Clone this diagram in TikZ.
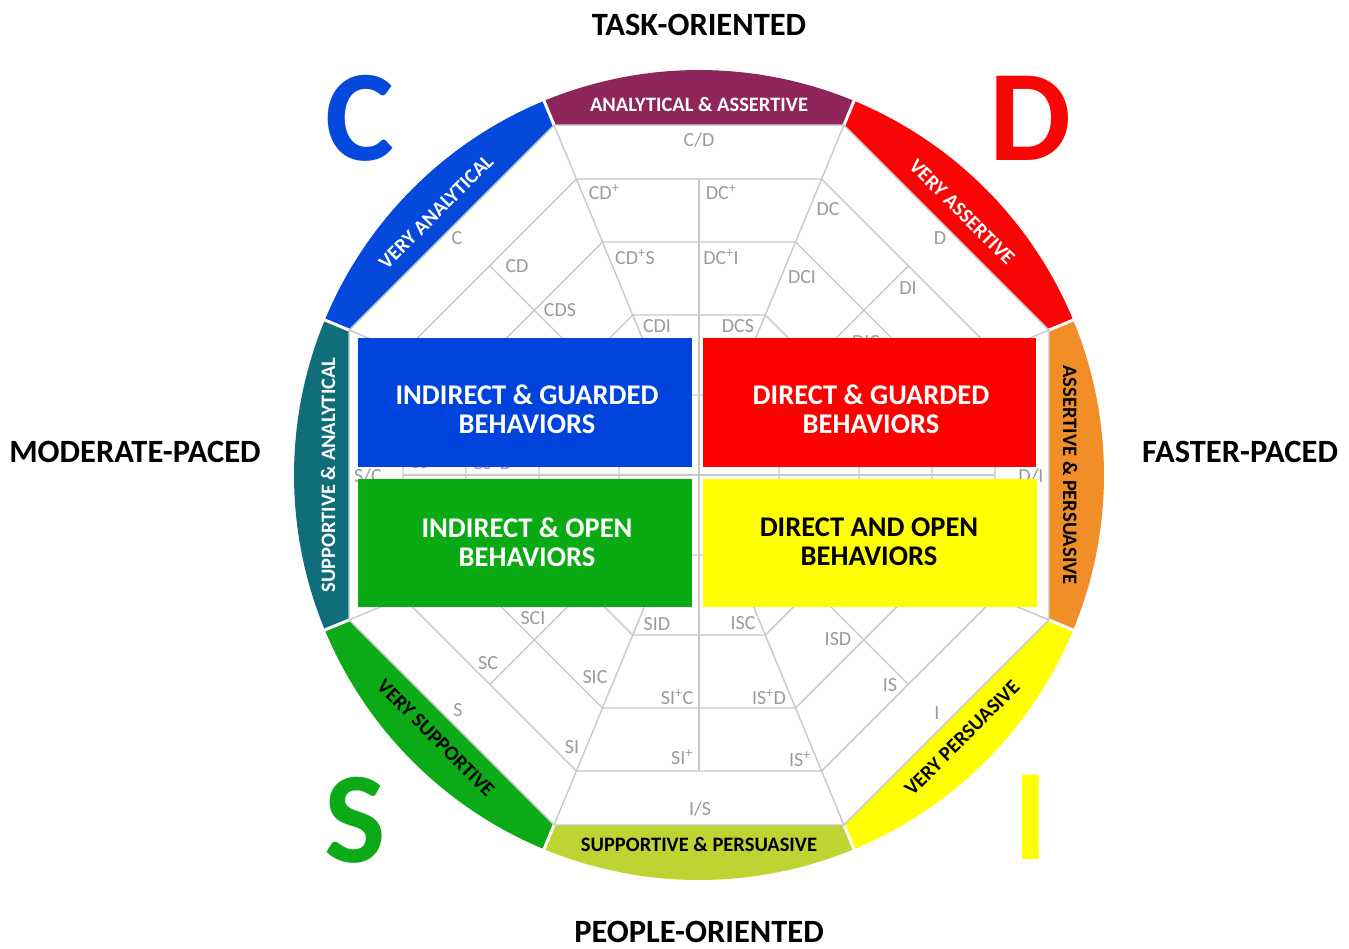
\documentclass[tikz,border=0pt]{standalone}
\usepackage{fontspec}
\setmainfont{Carlito}
\usetikzlibrary{calc}
\definecolor{cpurple}{RGB}{142,38,92}
\definecolor{cred}{RGB}{250,5,5}
\definecolor{corange}{RGB}{242,142,40}
\definecolor{cyellow}{RGB}{255,255,0}
\definecolor{cygreen}{RGB}{190,212,50}
\definecolor{cgreen}{RGB}{12,170,22}
\definecolor{cteal}{RGB}{15,110,122}
\definecolor{cblue}{RGB}{5,72,220}
\definecolor{bxblue}{RGB}{0,68,221}
\definecolor{bxred}{RGB}{255,0,0}
\definecolor{bxgreen}{RGB}{10,170,20}
\definecolor{bxyellow}{RGB}{255,255,0}
\definecolor{gridgray}{RGB}{200,200,200}
\definecolor{lblgray}{RGB}{155,155,155}
\begin{document}
\begin{tikzpicture}[x=1pt,y=-1pt,
  gridline/.style={draw=gridgray, line width=1.4pt},
  lbl/.style={text=lblgray, font=\fontsize{20}{21}\selectfont, inner sep=0pt},
  ringtxt/.style={font=\bfseries\fontsize{20.5}{22}\selectfont, inner sep=0pt},
  boxtxt/.style={font=\bfseries\fontsize{28.5}{29}\selectfont, align=center, inner sep=0pt},
  bigletter/.style={font=\bfseries\fontsize{130}{130}\selectfont, inner sep=0pt},
  outerlbl/.style={font=\bfseries\fontsize{32.5}{34}\selectfont, inner sep=0pt, text=black},
]
\useasboundingbox (0,0) rectangle (1349,948);
\fill[white] (0,0) rectangle (1349,948);
\coordinate (O) at (699,475);

\begin{scope}[shift={(O)}]
  % ring segments
  \foreach \a/\col in {-112.5/cpurple, -67.5/cred, -22.5/corange, 22.5/cyellow, 67.5/cygreen, 112.5/cgreen, 157.5/cteal, 202.5/cblue}{
    \fill[\col] (\a:378.84) -- (\a:405) arc[start angle=\a, end angle=\a+45, radius=405] -- ({\a+45}:378.84) -- cycle;
  }
  \foreach \a in {22.5,67.5,...,337.5}{
    \draw[white, line width=3pt] (\a:376) -- (\a:410);
  }
  % grid
  \foreach \r in {378.84, 320.39, 252.20, 173.18, 86.59}{
    \draw[gridline] (22.5:\r) \foreach \k in {1,...,7}{ -- ({22.5+45*\k}:\r) } -- cycle;
  }
  \foreach \a in {22.5,67.5,...,337.5}{
    \draw[gridline] (\a:86.59) -- (\a:378.84);
  }
  \foreach \a in {0,90,180,270}{
    \draw[gridline] (0,0) -- (\a:296);
  }
  \foreach \a in {45,135,225,315}{
    \draw[gridline] (\a:80) -- (\a:296);
  }
\end{scope}

% grey labels
\node[lbl] (l1) at (699,140) {C/D};
\node[lbl] (l2) at (604,192) {CD\textsuperscript{+}};
\node[lbl] (l3) at (721,192) {DC\textsuperscript{+}};
\node[lbl] (l4) at (635,257) {CD\textsuperscript{+}S};
\node[lbl] (l5) at (721,257) {DC\textsuperscript{+}I};
\node[lbl] (l6) at (657,326) {CDI};
\node[lbl] (l7) at (738,326) {DCS};
\node[lbl] (l8) at (457,238) {C};
\node[lbl] (l9) at (517,266) {CD};
\node[lbl] (l10) at (560,310) {CDS};
\node[lbl] (l11) at (828,209) {DC};
\node[lbl] (l12) at (940,238) {D};
\node[lbl] (l13) at (802,277) {DCI};
\node[lbl] (l14) at (908,288) {DI};
\node[lbl] (l15) at (866,342) {DIC};
\node[lbl] (l16) at (368,476) {S/C};
\node[lbl] (l17) at (419,462) {CS};
\node[lbl] (l18) at (492,462) {CS\textsuperscript{+}D};
\node[lbl] (l19) at (557,487) {SCD};
\node[lbl] (l20) at (1031,476) {D/I};
\node[lbl] (l21) at (700,809) {I/S};
\node[lbl] (l22) at (682,757) {SI\textsuperscript{+}};
\node[lbl] (l23) at (800,759) {IS\textsuperscript{+}};
\node[lbl] (l24) at (677,697) {SI\textsuperscript{+}C};
\node[lbl] (l25) at (769,697) {IS\textsuperscript{+}D};
\node[lbl] (l26) at (657,624) {SID};
\node[lbl] (l27) at (743,623) {ISC};
\node[lbl] (l28) at (458,710) {S};
\node[lbl] (l29) at (488,663) {SC};
\node[lbl] (l30) at (533,618) {SCI};
\node[lbl] (l31) at (572,747) {SI};
\node[lbl] (l32) at (595,677) {SIC};
\node[lbl] (l33) at (937,713) {I};
\node[lbl] (l34) at (890,685) {IS};
\node[lbl] (l35) at (838,639) {ISD};

% boxes
\fill[bxblue] (358,338) rectangle (692,467);
\fill[bxred] (703,338) rectangle (1036,467);
\fill[bxgreen] (358,479) rectangle (692,607);
\fill[bxyellow] (703,479) rectangle (1037,607);
\node[boxtxt, text=white] (b1) at (527,409) {INDIRECT \& GUARDED\\BEHAVIORS};
\node[boxtxt, text=white] (b2) at (871,409) {DIRECT \& GUARDED\\BEHAVIORS};
\node[boxtxt, text=white] (b3) at (527,542) {INDIRECT \& OPEN\\BEHAVIORS};
\node[boxtxt, text=black] (b4) at (869,542) {DIRECT AND OPEN\\BEHAVIORS};

% ring texts
\begin{scope}[shift={(O)}]
  \node[ringtxt, text=white] (r1) at (-90:371) {ANALYTICAL \& ASSERTIVE};
  \node[ringtxt, text=white, rotate=-45] (r2) at (-45:372) {VERY ASSERTIVE};
  \node[ringtxt, text=black, rotate=-90] (r3) at (0:371) {ASSERTIVE \& PERSUASIVE};
  \node[ringtxt, text=black, rotate=45] (r4) at (45:372) {VERY PERSUASIVE};
  \node[ringtxt, text=black] (r5) at (90:369) {SUPPORTIVE \& PERSUASIVE};
  \node[ringtxt, text=black, rotate=-45] (r6) at (135:372) {VERY SUPPORTIVE};
  \node[ringtxt, text=white, rotate=90] (r7) at (180:371) {SUPPORTIVE \& ANALYTICAL};
  \node[ringtxt, text=white, rotate=45] (r8) at (225:372) {VERY ANALYTICAL};
\end{scope}

% big letters
\node[bigletter, text=cblue] (bc) at (360,118) {C};
\node[bigletter, text=cred] (bd) at (1030,118) {D};
\node[bigletter, text=cgreen] (bs) at (355,820) {S};
\node[bigletter, text=cyellow] (bi) at (1031,817) {I};

% outer labels
\node[outerlbl] (t1) at (699,25) {TASK-ORIENTED};
\node[outerlbl] (t2) at (699,932) {PEOPLE-ORIENTED};
\node[outerlbl] (t3) at (135,452) {MODERATE-PACED};
\node[outerlbl] (t4) at (1240,452) {FASTER-PACED};
\end{tikzpicture}
\end{document}
